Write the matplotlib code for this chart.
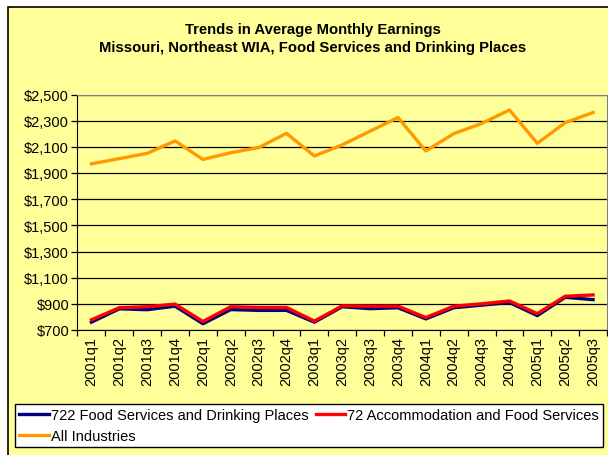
import numpy as np
import matplotlib.pyplot as plt
from matplotlib.patches import Rectangle
from matplotlib.ticker import FixedLocator, FuncFormatter

plt.rcParams['font.family'] = ['Liberation Sans', 'DejaVu Sans']

# data
quarters = ['2001q1', '2001q2', '2001q3', '2001q4', '2002q1', '2002q2', '2002q3', '2002q4',
            '2003q1', '2003q2', '2003q3', '2003q4', '2004q1', '2004q2', '2004q3', '2004q4',
            '2005q1', '2005q2', '2005q3']
food_722 = [760, 862, 855, 882, 748, 856, 850, 850, 760, 878, 863, 870, 785, 870, 890, 910, 810, 950, 932]
accom_72 = [778, 870, 878, 898, 765, 878, 872, 872, 768, 885, 882, 882, 795, 882, 900, 922, 825, 958, 968]
all_ind = [1970, 2010, 2050, 2145, 2004, 2055, 2094, 2203, 2030, 2115, 2220, 2324, 2068, 2201, 2278, 2382, 2127, 2285, 2362]
yticks = list(range(700, 2501, 200))

W, H = 608, 456
fig = plt.figure(figsize=(W / 100, H / 100), dpi=100)
fig.patch.set_facecolor('white')

# yellow chart area with black border
fig.patches.append(Rectangle((8 / W, -0.01), 1.02 - 8 / W, 1 - 8 / H + 0.01, transform=fig.transFigure,
                             facecolor='#FFFF99', edgecolor='black', linewidth=1.2, zorder=-5))

fig.text(313 / W, 1 - 30 / H, 'Trends in Average Monthly Earnings', ha='center', va='center',
         fontsize=10.7, fontweight='bold')
fig.text(313 / W, 1 - 48 / H, 'Missouri, Northeast WIA, Food Services and Drinking Places', ha='center',
         va='center', fontsize=10.7, fontweight='bold')

ax = fig.add_axes([77.5 / W, 1 - 331 / H, (607 - 77.5) / W, (331 - 95.5) / H])
ax.set_facecolor('#FFFF99')
x = np.arange(len(quarters))

l1, = ax.plot(x, food_722, color='#000080', lw=2.4, label='722 Food Services and Drinking Places', zorder=3)
l2, = ax.plot(x, accom_72, color='#FF0000', lw=2.4, label='72 Accommodation and Food Services', zorder=4)
l3, = ax.plot(x, all_ind, color='#FF9900', lw=2.4, label='All Industries', zorder=5)

ax.set_xlim(-0.5, len(quarters) - 0.5)
ax.set_ylim(700, 2500)
ax.yaxis.set_major_locator(FixedLocator(yticks))
ax.yaxis.set_major_formatter(FuncFormatter(lambda v, p: '${:,.0f}'.format(v)))
ax.grid(axis='y', color='black', linewidth=0.9)

ax.xaxis.set_major_locator(FixedLocator(np.arange(-0.5, len(quarters), 1.0)))
ax.xaxis.set_major_formatter(FuncFormatter(lambda v, p: ''))
ax.xaxis.set_minor_locator(FixedLocator(x))
ax.set_xticklabels(quarters, minor=True, rotation=90, fontsize=10.5)
ax.tick_params(axis='x', which='minor', length=0, pad=4)
ax.tick_params(axis='x', which='major', length=4, direction='out', width=0.9)
ax.tick_params(axis='y', length=4, direction='out', width=0.9, labelsize=10.5, pad=2)

for s in ['top', 'right']:
    ax.spines[s].set_color('#808080')
for s in ['left', 'bottom']:
    ax.spines[s].set_color('black')

leg = fig.legend(handles=[l1, l3, l2], ncol=2, loc='upper left', bbox_to_anchor=(15 / W, 1 - 405 / H),
                 fontsize=10.5, frameon=True, fancybox=False, edgecolor='black', framealpha=1,
                 handlelength=2.0, handletextpad=0.15, columnspacing=0.5, borderpad=0.3,
                 labelspacing=0.45, borderaxespad=0)
leg.get_frame().set_linewidth(1.0)

fig.savefig('out.png', dpi=100)
